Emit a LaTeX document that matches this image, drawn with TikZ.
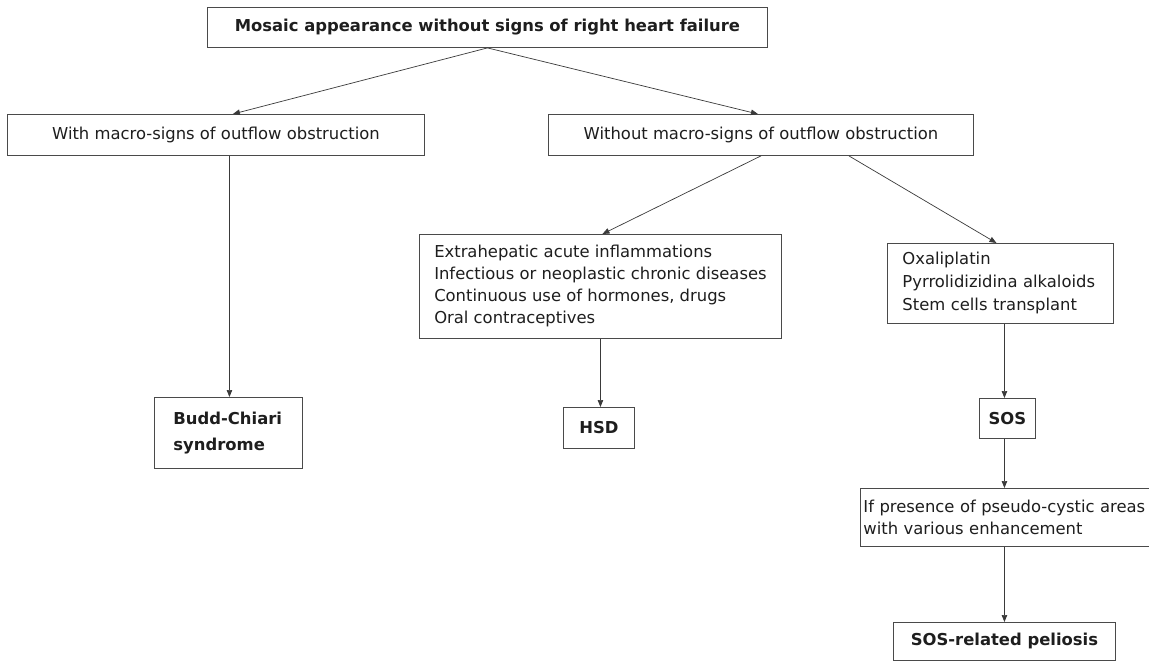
\documentclass[tikz,border=0pt]{standalone}
\usepackage{fontspec}
\setmainfont{DejaVu Sans}
\usetikzlibrary{arrows.meta}
\definecolor{boxgray}{HTML}{4A4A4A}
\definecolor{linegray}{HTML}{3A3A3A}
\definecolor{txt}{HTML}{1E1E1E}
\begin{document}
\begin{tikzpicture}[x=1pt,y=-1pt,
  box/.style={draw=boxgray, line width=0.9pt, inner sep=0pt, anchor=north west,
    font=\fontsize{16.4}{22}\selectfont, text=txt, align=center},
  bbox/.style={box, font=\fontsize{16.4}{26}\selectfont\bfseries},
  conn/.style={draw=linegray, line width=0.7pt, -{Triangle[length=7pt,width=5.5pt]}}]
\useasboundingbox (0,0) rectangle (1149,662);
\fill[white] (0,0) rectangle (1149,662);

\node[bbox, minimum width=560pt, minimum height=40pt] (top) at (207,7)
  {Mosaic appearance without signs of right heart failure};
\node[box, minimum width=417pt, minimum height=41pt] (with) at (7,114)
  {With macro-signs of outflow obstruction};
\node[box, minimum width=425pt, minimum height=41pt] (without) at (548,114)
  {Without macro-signs of outflow obstruction};
\node[box, minimum width=362pt, minimum height=104pt, align=left] (extra) at (419,234)
  {Extrahepatic acute inflammations\\Infectious or neoplastic chronic diseases\\Continuous use of hormones, drugs\\Oral contraceptives};
\node[box, minimum width=226pt, minimum height=80pt, inner xsep=15pt, text width=196pt, align=left, font=\fontsize{16.4}{23}\selectfont] (oxa) at (887,243)
  {Oxaliplatin\\Pyrrolidizidina alkaloids\\Stem cells transplant};
\node[bbox, minimum width=148pt, minimum height=71pt, inner xsep=19pt, text width=110pt, align=left] (budd) at (154,397)
  {Budd-Chiari\\syndrome};
\node[bbox, minimum width=71pt, minimum height=41pt] (hsd) at (563,407) {HSD};
\node[bbox, minimum width=56pt, minimum height=40pt] (sos) at (979,398) {SOS};
\node[box, minimum width=292pt, minimum height=58pt, inner xsep=3pt, text width=286pt, align=left] (ifp) at (860,488)
  {If presence of pseudo-cystic areas\\with various enhancement};
\node[bbox, minimum width=222pt, minimum height=38pt] (pel) at (893,622) {SOS-related peliosis};

\draw[conn] (top.south) -- ([xshift=17pt]with.north);
\draw[conn] (top.south) -- ([xshift=-3pt]without.north);
\draw[conn] ([xshift=1pt]budd.north |- with.south) -- ([xshift=1pt]budd.north);
\draw[conn] (without.south) -- ([xshift=2pt]extra.north);
\draw[conn] ([xshift=88pt]without.south) -- ([xshift=-4pt]oxa.north);
\draw[conn] (extra.south) -- (extra.south |- hsd.north);
\draw[conn] ([xshift=-3pt]sos.north |- oxa.south) -- ([xshift=-3pt]sos.north);
\draw[conn] ([xshift=-3pt]sos.south) -- ([xshift=-3pt]sos.south |- ifp.north);
\draw[conn] ([xshift=-3pt]sos.south |- ifp.south) -- ([xshift=-3pt]sos.south |- pel.north);
\end{tikzpicture}
\end{document}
